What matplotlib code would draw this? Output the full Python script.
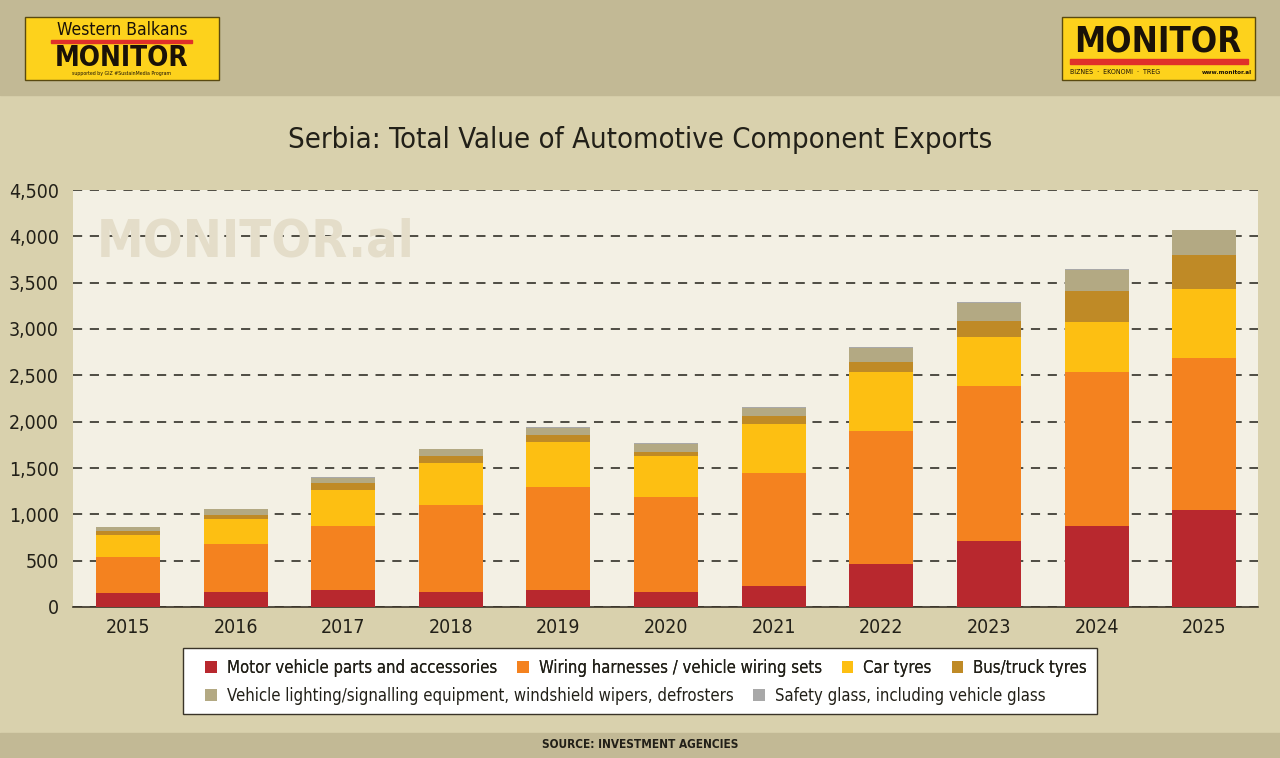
import matplotlib
matplotlib.use("Agg")
import matplotlib.pyplot as plt
from matplotlib.patches import Rectangle, Patch
from matplotlib.ticker import FuncFormatter
import numpy as np

years = ["2015", "2016", "2017", "2018", "2019", "2020", "2021", "2022", "2023", "2024", "2025"]
motor_parts = [155, 166, 184, 166, 187, 166, 230, 462, 711, 876, 1050]
wiring = [383, 516, 692, 938, 1104, 1017, 1212, 1442, 1669, 1656, 1641]
car_tyres = [234, 273, 383, 447, 487, 443, 538, 628, 538, 544, 736]
bus_tyres = [47, 40, 79, 75, 80, 48, 79, 108, 166, 332, 368]
lighting = [44, 61, 57, 76, 78, 89, 90, 156, 198, 227, 268]
safety_glass = [3, 4, 4, 4, 4, 4, 4, 6, 7, 8, 9]

series_names = ["Motor vehicle parts and accessories", "Wiring harnesses / vehicle wiring sets",
                "Car tyres", "Bus/truck tyres",
                "Vehicle lighting/signalling equipment, windshield wipers, defrosters",
                "Safety glass, including vehicle glass"]
series = [motor_parts, wiring, car_tyres, bus_tyres, lighting, safety_glass]
colors = ["#b8282e", "#f4821f", "#fdbf12", "#bf8a26", "#b3a983", "#a8a8a8"]
yticks = [0, 500, 1000, 1500, 2000, 2500, 3000, 3500, 4000, 4500]

W, H = 1280, 758
fig = plt.figure(figsize=(W / 100, H / 100), dpi=100)
fig.patch.set_facecolor("#d9d1ad")

CF = dict(family="DejaVu Sans", stretch="condensed")

def fx(px):
    return px / W

def fy(py):
    return 1 - py / H

# header and footer bands
fig.add_artist(Rectangle((0, fy(95)), 1, 95 / H, transform=fig.transFigure, color="#c2b995", zorder=0))
fig.add_artist(Rectangle((0, 0), 1, 25 / H, transform=fig.transFigure, color="#c2b995", zorder=0))

# left logo
fig.add_artist(Rectangle((fx(25), fy(80)), fx(194), 63 / H, transform=fig.transFigure,
                         facecolor="#fdd21c", edgecolor="#5a4a10", lw=1, zorder=1))
fig.text(fx(122), fy(30), "Western Balkans", ha="center", va="center", fontsize=12.5,
         color="#1a1208", zorder=2, **CF)
fig.add_artist(Rectangle((fx(51), fy(43)), fx(141), 2.5 / H, transform=fig.transFigure,
                         color="#e0302a", zorder=2))
fig.text(fx(122), fy(58), "MONITOR", ha="center", va="center", fontsize=20, fontweight="bold",
         color="#1a1208", zorder=2, **CF)
fig.text(fx(122), fy(74), "supported by GIZ #SustainMedia Program", ha="center", va="center", fontsize=3.8,
         color="#1a1208", zorder=2, **CF)

# right logo
fig.add_artist(Rectangle((fx(1062), fy(80)), fx(193), 63 / H, transform=fig.transFigure,
                         facecolor="#fdd21c", edgecolor="#5a4a10", lw=1, zorder=1))
fig.text(fx(1158), fy(41), "MONITOR", ha="center", va="center", fontsize=25, fontweight="bold",
         color="#1a1208", zorder=2, **CF)
fig.add_artist(Rectangle((fx(1070), fy(64)), fx(178), 5 / H, transform=fig.transFigure,
                         color="#e0302a", zorder=2))
fig.text(fx(1070), fy(72), "BIZNES  ·  EKONOMI  ·  TREG", ha="left", va="center", fontsize=5,
         color="#1a1208", zorder=2, **CF)
fig.text(fx(1252), fy(72), "www.monitor.al", ha="right", va="center", fontsize=4.5, fontweight="bold",
         color="#1a1208", zorder=2, **CF)

# title
fig.text(0.5, fy(140), "Serbia: Total Value of Automotive Component Exports", ha="center", va="center",
         fontsize=21, color="#222018", **CF)

# axes
ax = fig.add_axes([fx(73), fy(607), fx(1258 - 73), (607 - 190) / H])
ax.set_facecolor("#f3f0e4")
x = np.arange(len(years))
bottom = np.zeros(len(years))
for vals, col, name in zip(series, colors, series_names):
    ax.bar(x, vals, bottom=bottom, width=0.595, color=col, label=name, zorder=3)
    bottom += np.array(vals)

ax.set_xlim(-0.51, 10.5)
ax.set_ylim(0, 4500)
ax.set_yticks(yticks)
ax.yaxis.set_major_formatter(FuncFormatter(lambda v, p: f"{int(v):,}"))
ax.set_xticks(x)
ax.set_xticklabels(years)
ax.tick_params(axis="both", length=0, labelsize=14, colors="#222018")
ax.tick_params(axis="x", pad=8)
ax.tick_params(axis="y", pad=10)
for lab in ax.get_xticklabels() + ax.get_yticklabels():
    lab.set_family("DejaVu Sans")
    lab.set_stretch("condensed")
ax.yaxis.grid(True, linestyle=(0, (6, 5)), color="#222018", lw=1.1, zorder=1)
ax.set_axisbelow(True)
for s in ["top", "right", "left"]:
    ax.spines[s].set_visible(False)
ax.spines["bottom"].set_color("#3a3428")
ax.spines["bottom"].set_linewidth(1.2)

# watermark
ax.text(0.02, 0.875, "MONITOR.al", transform=ax.transAxes, fontsize=37.5, fontweight="bold",
        color="#e4ddc9", ha="left", va="center", zorder=2, **CF)

# legend box
fig.add_artist(Rectangle((fx(183), fy(714)), fx(914), 66 / H, transform=fig.transFigure,
                         facecolor="white", edgecolor="#3a3428", lw=1, zorder=1))
handles = [Patch(facecolor=c, edgecolor="none") for c in colors]
prop = {"family": "DejaVu Sans", "stretch": "condensed", "size": 12}
leg1 = fig.legend(handles[:4], series_names[:4], loc="center left", bbox_to_anchor=(fx(190), fy(668)),
                  ncol=4, frameon=False, handlelength=0.7, handleheight=0.7, handletextpad=0.6,
                  columnspacing=1.2, prop=prop)
leg2 = fig.legend(handles[4:], series_names[4:], loc="center left", bbox_to_anchor=(fx(190), fy(696)),
                  ncol=2, frameon=False, handlelength=0.7, handleheight=0.7, handletextpad=0.6,
                  columnspacing=1.2, prop=prop)
for lg in (leg1, leg2):
    for t in lg.get_texts():
        t.set_color("#222018")
fig.add_artist(leg1)

# source
fig.text(0.5, fy(745), "SOURCE: INVESTMENT AGENCIES", ha="center", va="center", fontsize=8.5,
         fontweight="bold", color="#222018", **CF)

fig.savefig("out.png", dpi=100, facecolor=fig.get_facecolor())
